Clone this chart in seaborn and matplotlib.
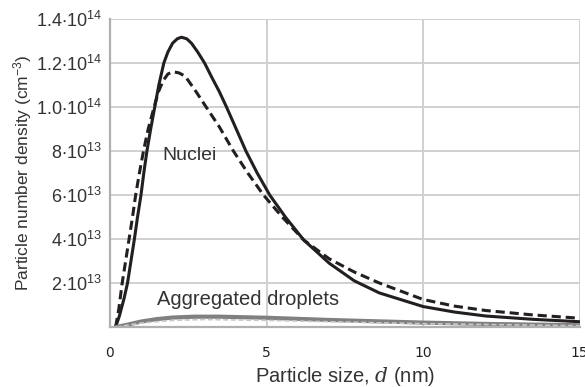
import numpy as np
import pandas as pd
import seaborn as sns
import matplotlib.pyplot as plt

# nuclei, solid line (values in 1e14 cm^-3)
nuc_x = [0.18, 0.3, 0.45, 0.56, 0.67, 0.78, 0.88, 0.99, 1.08, 1.18, 1.3, 1.43, 1.56, 1.72, 1.85, 2.0, 2.15, 2.28,
         2.45, 2.6, 2.8, 3.02, 3.25, 3.49, 3.72, 4.0, 4.34, 4.7, 5.1, 5.6, 6.19, 7.0, 7.8, 8.6, 10.0, 11.0, 12.0, 13.5, 15.0]
nuc_y = [0.0, 0.05, 0.13, 0.20, 0.30, 0.40, 0.50, 0.60, 0.70, 0.80, 0.90, 1.00, 1.10, 1.20, 1.25, 1.29, 1.31, 1.317,
         1.31, 1.29, 1.25, 1.20, 1.135, 1.07, 1.00, 0.91, 0.80, 0.70, 0.60, 0.50, 0.395, 0.29, 0.21, 0.155, 0.093, 0.068, 0.05, 0.035, 0.024]

# nuclei, dashed line
nucd_x = [0.18, 0.28, 0.39, 0.5, 0.61, 0.72, 0.82, 0.94, 1.07, 1.22, 1.41, 1.55, 1.7, 1.85, 2.01, 2.2, 2.4, 2.7,
          3.07, 3.49, 3.94, 4.4, 4.9, 5.5, 6.19, 7.0, 7.8, 8.6, 10.0, 11.0, 12.0, 13.5, 15.0]
nucd_y = [0.0, 0.08, 0.20, 0.30, 0.40, 0.50, 0.60, 0.70, 0.80, 0.90, 1.00, 1.07, 1.12, 1.15, 1.16, 1.155, 1.14, 1.08,
          1.00, 0.91, 0.80, 0.70, 0.60, 0.50, 0.395, 0.31, 0.25, 0.20, 0.125, 0.095, 0.075, 0.055, 0.04]

# aggregated droplets
agg_x = [0.2, 0.6, 1.0, 1.5, 2.0, 2.7, 3.5, 5.0, 7.0, 10.0, 12.0, 15.0]
agg_y = [0.0, 0.012, 0.025, 0.036, 0.043, 0.047, 0.047, 0.042, 0.032, 0.02, 0.014, 0.008]
aggd_x = [0.2, 1.0, 2.0, 3.0, 5.0, 7.0, 10.0, 15.0]
aggd_y = [0.0, 0.018, 0.03, 0.034, 0.03, 0.024, 0.015, 0.006]

yticks = [0.2, 0.4, 0.6, 0.8, 1.0, 1.2, 1.4]
ytick_labels = [r'$\mathregular{2{\cdot}10^{13}}$', r'$\mathregular{4{\cdot}10^{13}}$',
                r'$\mathregular{6{\cdot}10^{13}}$', r'$\mathregular{8{\cdot}10^{13}}$',
                r'$\mathregular{1.0{\cdot}10^{14}}$', r'$\mathregular{1.2{\cdot}10^{14}}$',
                r'$\mathregular{1.4{\cdot}10^{14}}$']
xticks = [0, 5, 10, 15]

sns.set_style('whitegrid')
plt.rcParams['font.family'] = ['Liberation Sans', 'DejaVu Sans']
plt.rcParams['mathtext.fontset'] = 'custom'
plt.rcParams['mathtext.rm'] = 'Liberation Sans'
plt.rcParams['mathtext.it'] = 'DejaVu Serif:italic'

fig = plt.figure(figsize=(5.85, 3.87), dpi=100)
ax = fig.add_axes([0.188, 0.155, 0.803, 0.796])

dark = '#231f20'
sns.lineplot(x=nuc_x, y=nuc_y, ax=ax, color=dark, lw=2.2)
sns.lineplot(x=nucd_x, y=nucd_y, ax=ax, color=dark, lw=2.2, linestyle=(0, (3, 1.6)))
sns.lineplot(x=agg_x, y=agg_y, ax=ax, color='#808080', lw=3)
sns.lineplot(x=aggd_x, y=aggd_y, ax=ax, color='#c8c8c8', lw=1.2, linestyle=(0, (3, 1.6)))

ax.set_xlim(0, 15)
ax.set_ylim(0, 1.4)
ax.set_yticks(yticks)
ax.set_yticklabels(ytick_labels, fontsize=13, color='#333333')
ax.set_xticks(xticks)
ax.set_xticklabels([str(t) for t in xticks], fontsize=10, family='DejaVu Sans', color='#222222')
ax.tick_params(axis='x', length=0, pad=14)
ax.tick_params(axis='y', length=0, pad=6)
ax.grid(True, color='#d0d0d0', lw=1.4)
for s in ['left', 'bottom']:
    ax.spines[s].set_color('#b0b0b0')
    ax.spines[s].set_linewidth(1.6)
for s in ['top', 'right']:
    ax.spines[s].set_visible(False)

ax.set_xlabel(r'Particle size, $d$ (nm)', fontsize=14.5, color='#333333', labelpad=3)
ax.set_ylabel(r'Particle number density (cm$^{-3}$)', fontsize=12.5, color='#333333', labelpad=1)

ax.text(1.66, 0.78, 'Nuclei', fontsize=14, color='#333333', va='center')
ax.text(1.5, 0.125, 'Aggregated droplets', fontsize=14.5, color='#333333', va='center')

fig.savefig('out.png', dpi=100)
